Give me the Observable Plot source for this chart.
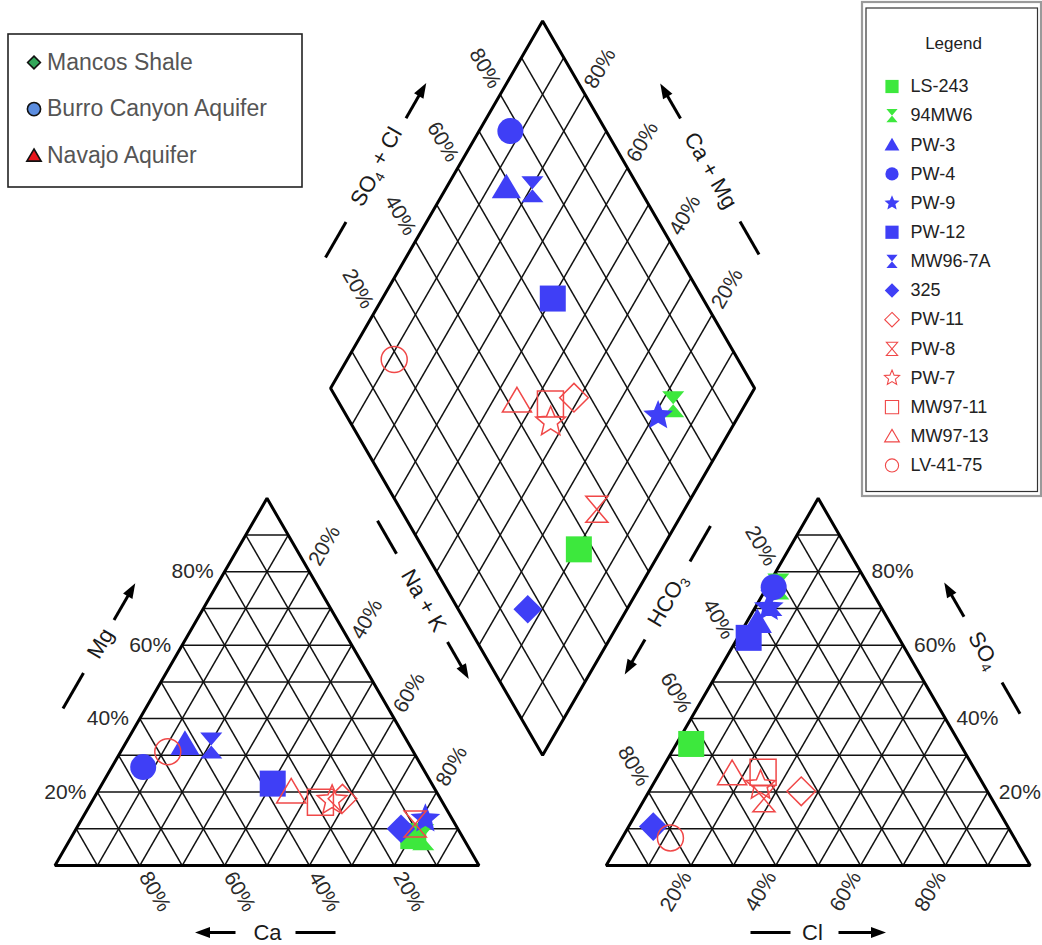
<!DOCTYPE html>
<html>
<head>
<meta charset="utf-8">
<script src="https://cdn.jsdelivr.net/npm/d3@7"></script>
<script src="https://cdn.jsdelivr.net/npm/@observablehq/plot@0.6"></script>
<style>
  body { margin: 0; background: #fff; }
  #chart svg { display: block; }
</style>
</head>
<body>
<div id="chart"></div>
<script>
// ---- Samples (legend order) and their major-ion composition, % meq ----
const samples = ["LS-243", "94MW6", "PW-3", "PW-4", "PW-9", "PW-12", "MW96-7A", "325",
                 "PW-11", "PW-8", "PW-7", "MW97-11", "MW97-13", "LV-41-75"];
// cations: Mg and Na+K (Ca is the remainder)
const mg  = [8.0, 7.7, 33.1, 26.8, 12.7, 22.3, 32.7, 10.0, 18.2, 11.3, 17.7, 17.2, 20.0, 31.0];
const naK = [80.5, 83.0, 14.1, 7.4, 81.0, 40.2, 20.5, 76.6, 58.7, 79.3, 56.5, 54.0, 45.7, 11.1];
// anions: SO4 and Cl (HCO3 is the remainder)
const so4 = [33.1, 76.0, 66.3, 75.8, 70.3, 62.0, 71.5, 10.6, 20.2, 18.2, 21.8, 25.4, 25.0, 7.5];
const cl  = [3.5, 2.6, 2.5, 1.6, 3.2, 2.6, 3.2, 5.8, 35.9, 28.1, 25.5, 24.3, 17.2, 11.4];

// Aquifer groups shown in the key box
const groups = ["Mancos Shale", "Burro Canyon Aquifer", "Navajo Aquifer"];
// Percent tick labels
const tickLabels = [20, 40, 60, 80];

// ---- Styling ----
const BLUE = "#3f3ff6", GREEN = "#3de83d", RED = "#f04848";
const FONT = "'Liberation Sans', Arial, Helvetica, sans-serif";

// Custom marker shapes (size -> radius like Plot's own symbols)
const sym = f => ({draw(c, size) { f(c, Math.sqrt(size / Math.PI)); }});
const shapes = {
  square: sym((c, r) => { c.moveTo(-r, -r); c.lineTo(r, -r); c.lineTo(r, r); c.lineTo(-r, r); c.closePath(); }),
  circle: sym((c, r) => { c.moveTo(r, 0); c.arc(0, 0, r, 0, 2 * Math.PI); }),
  triangle: sym((c, r) => { c.moveTo(0, -r * 1.05); c.lineTo(r * 1.12, r * 0.85); c.lineTo(-r * 1.12, r * 0.85); c.closePath(); }),
  diamond: sym((c, r) => { const s = r * 1.1; c.moveTo(0, -s); c.lineTo(s, 0); c.lineTo(0, s); c.lineTo(-s, 0); c.closePath(); }),
  hourglass: sym((c, r) => { const w = r * 0.85, h = r; c.moveTo(-w, -h); c.lineTo(w, -h); c.lineTo(-w, h); c.lineTo(w, h); c.closePath(); }),
  star: sym((c, r) => {
    const R = r * 1.2, ri = R * 0.45;
    for (let i = 0; i < 10; i++) {
      const a = -Math.PI / 2 + i * Math.PI / 5, rr = i % 2 ? ri : R;
      const x = rr * Math.cos(a), y = rr * Math.sin(a);
      i ? c.lineTo(x, y) : c.moveTo(x, y);
    }
    c.closePath();
  }),
  // filled arrow head, tip pointing up, centre at the middle of its length
  head: sym((c, r) => { c.moveTo(0, -r); c.lineTo(r * 0.72, r); c.lineTo(-r * 0.72, r); c.closePath(); })
};
const sampleStyle = {
  "LS-243":   {shape: "square",    color: GREEN, filled: true},
  "94MW6":    {shape: "hourglass", color: GREEN, filled: true},
  "PW-3":     {shape: "triangle",  color: BLUE,  filled: true},
  "PW-4":     {shape: "circle",    color: BLUE,  filled: true},
  "PW-9":     {shape: "star",      color: BLUE,  filled: true},
  "PW-12":    {shape: "square",    color: BLUE,  filled: true},
  "MW96-7A":  {shape: "hourglass", color: BLUE,  filled: true},
  "325":      {shape: "diamond",   color: BLUE,  filled: true},
  "PW-11":    {shape: "diamond",   color: RED,   filled: false},
  "PW-8":     {shape: "hourglass", color: RED,   filled: false},
  "PW-7":     {shape: "star",      color: RED,   filled: false},
  "MW97-11":  {shape: "square",    color: RED,   filled: false},
  "MW97-13":  {shape: "triangle",  color: RED,   filled: false},
  "LV-41-75": {shape: "circle",    color: RED,   filled: false}
};
const groupStyle = {
  "Mancos Shale":         {shape: "diamond",  color: "#33a65a", r: 5.8},
  "Burro Canyon Aquifer": {shape: "circle",   color: "#5b8de0", r: 6.6},
  "Navajo Aquifer":       {shape: "triangle", color: "#e8161c", r: 6.4}
};

// ---- Piper geometry (triangle side = 100 units) ----
const K = Math.sqrt(3) / 2;
const GAP = 30;                                   // space between the two triangles
const catXY = (na, m) => [na + m / 2, m * K];     // cation triangle: Ca | Na+K | Mg apex
const anXY  = (c, s) => [100 + GAP + c + s / 2, s * K]; // anion triangle: HCO3 | Cl | SO4 apex
const dmXY  = (a, b) => [115 - 50 + (a + b) / 2, (GAP + 100) * K + (b - a) * K]; // diamond

// page layout: pixels per unit and origin of the cation triangle
const PX = 4.24, OX = 54.5, OY = 865, W = 1042, H = 945;
const P = (px, py) => [(px - OX) / PX, (OY - py) / PX];

// ---- Grid ----
const seg = [];
const pushSeg = (a, b) => seg.push({x1: a[0], y1: a[1], x2: b[0], y2: b[1]});
for (const t of d3.range(10, 100, 10)) {
  pushSeg(catXY(0, t), catXY(100 - t, t));
  pushSeg(catXY(t, 0), catXY(t, 100 - t));
  pushSeg(catXY(100 - t, 0), catXY(0, 100 - t));
  pushSeg(anXY(0, t), anXY(100 - t, t));
  pushSeg(anXY(t, 0), anXY(t, 100 - t));
  pushSeg(anXY(100 - t, 0), anXY(0, 100 - t));
  pushSeg(dmXY(t, 0), dmXY(t, 100));
  pushSeg(dmXY(0, t), dmXY(100, t));
}
const outlines = [
  ...[catXY(0, 0), catXY(100, 0), catXY(0, 100)].map(p => ({x: p[0], y: p[1], z: "cat"})),
  ...[anXY(0, 0), anXY(100, 0), anXY(0, 100)].map(p => ({x: p[0], y: p[1], z: "an"})),
  ...[dmXY(0, 0), dmXY(100, 0), dmXY(100, 100), dmXY(0, 100)].map(p => ({x: p[0], y: p[1], z: "dm"}))
];

// ---- Percent labels along the edges ----
const G = 9 / PX, HOFF = 11 / PX;
const pct = [];
const lab = (p, ox, oy, v, rotate, anchor) => pct.push({x: p[0] + ox, y: p[1] + oy, text: v + "%", rotate, anchor});
for (const v of tickLabels) {
  lab(catXY(0, v), -HOFF, 0, v, 0, "end");                 // Mg
  lab(catXY(v, 100 - v), 0.5 * G, K * G, v, -60, "start"); // Na + K
  lab(catXY(100 - v, 0), 0.5 * G, -K * G, v, 60, "start"); // Ca
  lab(anXY(100 - v, v), HOFF, 0, v, 0, "start");           // SO4
  lab(anXY(0, 100 - v), -0.5 * G, K * G, v, 60, "end");    // HCO3
  lab(anXY(v, 0), -0.5 * G, -K * G, v, -60, "end");        // Cl
  lab(dmXY(0, v), -0.5 * G, K * G, v, 60, "end");          // SO4 + Cl
  lab(dmXY(100 - v, 100), 0.5 * G, K * G, v, -60, "start");// Ca + Mg
}

// ---- Axis titles with dash and direction arrow (page position in px) ----
const titles = [
  {text: "Mg",       cx: 100, cy: 643, rot: -60, dash: [-75, -34], arrow: [27, 69]},
  {text: "Na + K",   cx: 423, cy: 600, rot: 60,  dash: [-92, -54], arrow: [48, 90]},
  {text: "Ca",       cx: 267, cy: 932, rot: 0,   dash: [28, 68],   arrow: [-32, -72]},
  {text: "Cl",       cx: 812, cy: 932, rot: 0,   dash: [-62, -22], arrow: [26, 73]},
  {text: "SO4",      cx: 983, cy: 650, rot: 60,  dash: [37, 73],   arrow: [-39, -78]},
  {text: "HCO3",     cx: 667, cy: 600, rot: -60, dash: [45, 86],   arrow: [-45, -85]},
  {text: "SO4 + Cl", cx: 377, cy: 167, rot: -60, dash: [-104, -63], arrow: [57, 97]},
  {text: "Ca + Mg",  cx: 710, cy: 170, rot: 60,  dash: [59, 97],   arrow: [-60, -100]}
];
const along = (t, s) => { const a = t.rot * Math.PI / 180; return P(t.cx + s * Math.cos(a), t.cy + s * Math.sin(a)); };
const titleText = titles.map(t => { const p = P(t.cx, t.cy); return {x: p[0], y: p[1], text: t.text, rotate: t.rot}; });
const seg2 = (t, a0, a1) => { const a = along(t, a0), b = along(t, a1); return {x1: a[0], y1: a[1], x2: b[0], y2: b[1]}; };
const dashes = titles.map(t => seg2(t, t.dash[0], t.dash[1]));
const HEAD = 7; // half-length of the arrow head, px
const shafts = titles.map(t => {
  const dir = Math.sign(t.arrow[1] - t.arrow[0]);
  return seg2(t, t.arrow[0], t.arrow[1] - dir * HEAD);
});
const heads = titles.map(t => {
  const dir = Math.sign(t.arrow[1] - t.arrow[0]);
  const p = along(t, t.arrow[1] - dir * HEAD);
  const ang = t.rot + (dir < 0 ? 180 : 0) + 90; // rotate the upward tip onto the arrow direction
  return {x: p[0], y: p[1], rotate: ang};
});

// ---- Sample marks: cation, anion and diamond positions ----
const sampleMarks = samples.map((name, i) => {
  const st = sampleStyle[name];
  const rows = [catXY(naK[i], mg[i]), anXY(cl[i], so4[i]), dmXY(naK[i], so4[i] + cl[i])]
    .map(p => ({x: p[0], y: p[1], name}));
  return Plot.dot(rows, {
    x: "x", y: "y", r: 13, symbol: shapes[st.shape],
    fill: st.filled ? st.color : "none",
    stroke: st.filled ? "none" : st.color,
    strokeWidth: 1.5
  });
});

// ---- Sample key (right box) ----
const keyRows = samples.map((name, i) => { const p = P(891.5, 86 + i * 29.15); return {x: p[0], y: p[1], name}; });
const keyMarks = keyRows.map(d => {
  const st = sampleStyle[d.name];
  return Plot.dot([d], {
    x: "x", y: "y", r: 6.6, symbol: shapes[st.shape],
    fill: st.filled ? st.color : "none", stroke: st.filled ? "none" : st.color, strokeWidth: 1.1
  });
});
const keyText = keyRows.map(d => ({x: d.x + 18.5 / PX, y: d.y, text: d.name}));

// ---- Group key (left box) ----
const groupRows = groups.map((name, i) => { const p = P(33.5, 62 + i * 46.6); return {x: p[0], y: p[1], name}; });
const groupMarks = groupRows.map(d => {
  const st = groupStyle[d.name];
  return Plot.dot([d], {x: "x", y: "y", r: st.r, symbol: shapes[st.shape], fill: st.color, stroke: "#111", strokeWidth: 1.6});
});
const groupText = groupRows.map(d => ({x: d.x + 13 / PX, y: d.y, text: d.name}));

const box = (x1, y1, x2, y2) => { const a = P(x1, y1), b = P(x2, y2); return {x1: a[0], y1: a[1], x2: b[0], y2: b[1]}; };
const legendTitle = (() => { const p = P(953, 43); return {x: p[0], y: p[1], text: "Legend"}; })();

const [xmin] = P(0, 0), [xmax] = P(W, 0);
const ymin = P(0, H)[1], ymax = P(0, 0)[1];

const chart = Plot.plot({
  width: W, height: H, margin: 0,
  style: {fontFamily: FONT, background: "#fff"},
  x: {domain: [xmin, xmax], range: [0, W], axis: null},
  y: {domain: [ymin, ymax], range: [H, 0], axis: null},
  marks: [
    // grid and outlines
    Plot.link(seg, {x1: "x1", y1: "y1", x2: "x2", y2: "y2", stroke: "#111", strokeWidth: 1.5}),
    Plot.line(outlines, {x: "x", y: "y", z: "z", curve: "linear-closed", stroke: "#000", strokeWidth: 3, strokeLinejoin: "miter"}),
    // percent labels
    ...["start", "end"].map(anchor => Plot.text(pct.filter(d => d.anchor === anchor), {
      x: "x", y: "y", text: "text", rotate: "rotate", textAnchor: anchor, fontSize: 21, fill: "#2a2a2a"
    })),
    // axis titles
    Plot.text(titleText, {x: "x", y: "y", text: "text", rotate: "rotate", fontSize: 22, fill: "#1a1a1a", className: "axis-title"}),
    Plot.link(dashes, {x1: "x1", y1: "y1", x2: "x2", y2: "y2", stroke: "#000", strokeWidth: 3}),
    Plot.link(shafts, {x1: "x1", y1: "y1", x2: "x2", y2: "y2", stroke: "#000", strokeWidth: 3}),
    Plot.dot(heads, {x: "x", y: "y", rotate: "rotate", r: 7.5, symbol: shapes.head, fill: "#000", stroke: "none"}),
    // samples
    ...sampleMarks,
    // group key box
    Plot.rect([box(8, 34, 302, 187)], {x1: "x1", y1: "y1", x2: "x2", y2: "y2", fill: "#fff", stroke: "#222", strokeWidth: 1.6}),
    ...groupMarks,
    Plot.text(groupText, {x: "x", y: "y", text: "text", textAnchor: "start", fontSize: 23, fill: "#555"}),
    // sample key box
    Plot.rect([box(862, 2, 1041, 496)], {x1: "x1", y1: "y1", x2: "x2", y2: "y2", fill: "#fff", stroke: "#9a9a9a", strokeWidth: 2.2}),
    Plot.rect([box(866, 8, 1037.5, 491.5)], {x1: "x1", y1: "y1", x2: "x2", y2: "y2", fill: "none", stroke: "#333", strokeWidth: 1.2}),
    Plot.text([legendTitle], {x: "x", y: "y", text: "text", fontSize: 17, fill: "#222"}),
    ...keyMarks,
    Plot.text(keyText, {x: "x", y: "y", text: "text", textAnchor: "start", fontSize: 18, fill: "#222"})
  ]
});

// chemical formulas: set the trailing digit of SO4 / HCO3 as a subscript
d3.select(chart).selectAll("g.axis-title text").each(function () {
  const t = this.textContent;
  const m = t.match(/^(SO|HCO)(\d)(.*)$/);
  if (!m) return;
  const el = d3.select(this).text(null);
  el.append("tspan").text(m[1]);
  el.append("tspan").attr("font-size", "0.62em").attr("dy", "0.3em").text(m[2]);
  if (m[3]) el.append("tspan").attr("dy", "-0.3em").text(m[3]);
});

document.getElementById("chart").append(chart);
</script>
</body>
</html>
